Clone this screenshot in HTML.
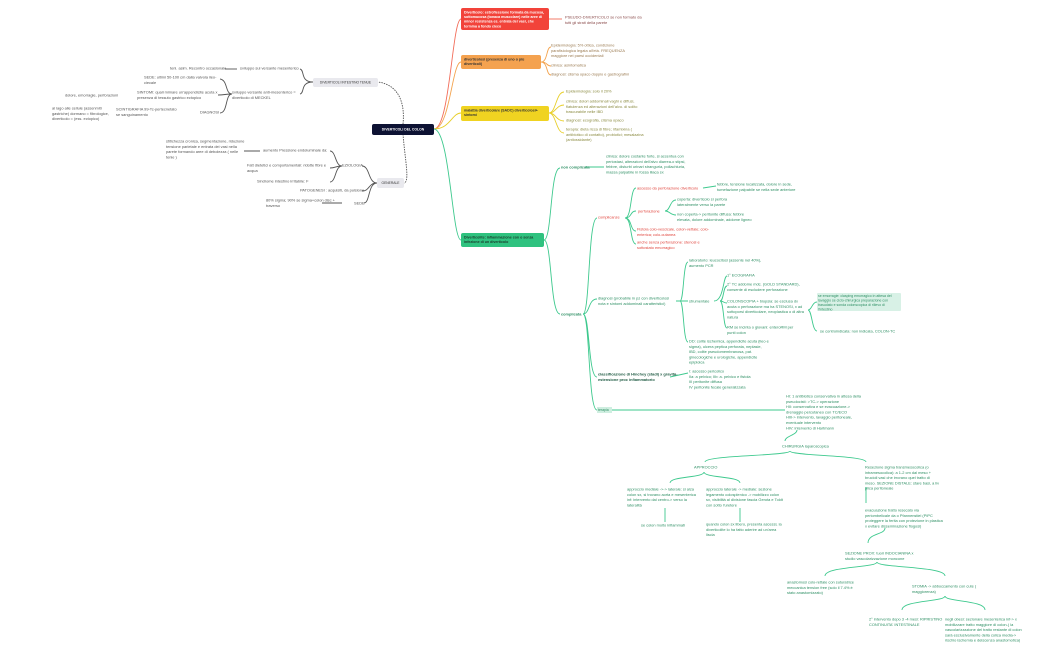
<!DOCTYPE html>
<html><head><meta charset="utf-8"><style>
html,body{margin:0;padding:0;background:#fff;}
body{width:1050px;height:650px;position:relative;overflow:hidden;font-family:"Liberation Sans",sans-serif;}
.t{position:absolute;font-size:7.8px;line-height:10.6px;color:#555;transform:scale(.5);transform-origin:0 0;white-space:nowrap;}
.t.w{white-space:normal;}
.box{position:absolute;border-radius:2px;box-sizing:border-box;overflow:hidden;}
.box .in{position:absolute;left:3px;top:2px;font-size:7.8px;line-height:9.4px;font-weight:bold;transform:scale(.5);transform-origin:0 0;}
.box .c{position:absolute;left:0;top:0;width:200%;height:200%;display:flex;align-items:center;justify-content:center;font-size:7.4px;transform:scale(.5);transform-origin:0 0;white-space:nowrap;}
.g{color:#2e8f64}.r{color:#e0453d}.b{font-weight:bold}
svg{position:absolute;left:0;top:0}
</style></head><body>
<svg width="1050" height="650" fill="none" stroke-width="0.9">
<g stroke="#555">
<path d="M434 129 C450 129 452 20 461 19" stroke="#f26d5a"/>
<path d="M434 129 C450 129 452 62 461 62" stroke="#f3a34e"/>
<path d="M434 129 C450 129 452 113 461 113" stroke="#e8cf2a"/>
<path d="M434 129 C450 130 452 240 461 240" stroke="#3ec98e"/>
<path d="M403 124 C405 105 400 85 378 82" stroke-dasharray="1.5,1"/>
<path d="M403 134 C405 160 410 182 404 183" stroke-dasharray="1.5,1"/>
<path d="M313 82 C300 82 305 70 300 69 M313 82 C300 82 305 93 300 94"/>
<path d="M225 69 L237 69"/>
<path d="M232 94 C225 94 228 80 220 79 M232 94 C225 94 225 95 218 95 M232 94 C225 94 228 113 220 113"/>
<path d="M377 183 C368 183 370 166 362 166 M377 183 C368 183 370 191 362 191 M377 183 C368 183 370 203 364 203"/>
<path d="M342 166 C335 166 336 151 330 151 M342 166 C335 166 336 168 330 168 M342 166 C335 166 336 182 330 182"/>
<path d="M244 151 L260 151 M342 203 L322 203"/>
</g>
<g stroke="#f26d5a"><path d="M549 19 L562 19"/></g>
<g stroke="#f3a34e"><path d="M541 62 C548 62 546 47 551 47 M541 62 C548 62 546 66 551 66 M541 62 C548 62 546 75 551 75"/></g>
<g stroke="#e8cf2a"><path d="M549 113 C556 113 556 92 564 92 M549 113 C556 113 556 105 564 105 M549 113 C556 113 556 121 564 121 M549 113 C556 113 556 133 564 133"/></g>
<g stroke="#3ec98e">
<path d="M544 240 C552 240 550 168 560 168 M544 240 C552 240 550 314 560 314"/>
<path d="M585 167 L604 167"/>
<path d="M583 314 C590 314 588 218 597 218 M583 314 C590 314 588 299 597 299 M583 314 C590 314 588 377 597 377 M583 314 C590 314 588 410 597 410"/>
<path d="M625 218 C632 218 630 188 636 188 M625 218 C632 218 630 211 636 211 M625 218 C632 218 630 231 636 231 M625 218 C632 218 630 244 636 244"/>
<path d="M703 188 L716 186 M665 211 C670 211 670 200 676 200 M665 211 C670 211 670 215 676 215"/>
<path d="M676 301 L688 301 M680 301 C684 301 683 262 688 262 M680 301 C684 301 683 342 688 342"/>
<path d="M714 301 C724 301 723 276 727 276 M720 301 C724 301 723 286 727 286 M720 301 C724 301 723 303 727 303 M720 301 C724 301 723 328 727 328"/>
<path d="M808 310 C812 310 812 302 817 302 M808 310 C812 310 812 331 817 331"/>
<path d="M670 377 L688 373"/>
<path d="M612 410 L785 410"/>
<path d="M797 430 C797 435 785 436 785 441"/>
<path d="M790 451 C790 456 705 455 705 462 M790 451 C790 456 866 455 866 462"/>
<path d="M704 472 C704 478 670 476 670 483 M704 472 C704 478 740 476 740 483"/>
<path d="M665 508 L665 522 M740 508 L740 522 M866 487 L866 503"/>
<path d="M885 528 C885 535 868 533 868 543"/>
<path d="M877 562 C877 568 825 566 825 576 M877 562 C877 568 945 566 945 576"/>
<path d="M945 596 C945 602 902 600 902 610 M945 596 C945 602 985 600 985 610"/>
</g>
</svg>

<div class="box" style="left:372px;top:124px;width:62px;height:11px;background:#0d1233;"><div class="c" style="color:#fff;font-weight:bold;font-size:6.8px">DIVERTICOLI DEL COLON</div></div>
<div class="box" style="left:313px;top:78px;width:65px;height:9px;background:#e9e9ee;"><div class="c" style="color:#333;font-size:6.6px">DIVERTICOLI INTESTINO TENUE</div></div>
<div class="box" style="left:377px;top:178px;width:27px;height:10px;background:#e9e9ee;"><div class="c" style="color:#333;font-size:6.6px">GENERALE</div></div>
<div class="box" style="left:461px;top:8px;width:88px;height:22px;background:#f2433a;"><div class="in" style="color:#fff;width:166px;font-size:7.2px;line-height:9.2px">Diverticolo: estroflessione formata da mucosa, sottomucosa (tonaca muscolare) nelle aree di minor resistenza es. entrata dei vasi, che termina a fondo cieco</div></div>
<div class="box" style="left:461px;top:55px;width:80px;height:14px;background:#f4a24f;"><div class="in" style="color:#333;width:150px;font-size:7.2px">diverticolosi (presenza di uno o più diverticoli)</div></div>
<div class="box" style="left:461px;top:106px;width:88px;height:15px;background:#f0d321;"><div class="in" style="color:#333;width:166px;font-size:7.2px">malattia diverticolare (SADC) diverticolosi+ sintomi</div></div>
<div class="box" style="left:461px;top:233px;width:83px;height:14px;background:#2fc27f;"><div class="in" style="color:#1a3a2a;width:156px;font-size:7.2px">Diverticolite: infiammazione con o senza infezione di un diverticolo</div></div>

<div class="t" style="left:170px;top:66px">tenl. asim. Recontro occasionale</div>
<div class="t" style="left:240px;top:66px">sviluppo sul versante mesenterico</div>
<div class="t w" style="left:144px;top:75px;width:152px">SEDE: ultimi 50-100 cm dalla valvola ileo-ciecale</div>
<div class="t w" style="left:137px;top:90px;width:164px">SINTOMI: quali mimare un'appendicite acuta x presenza di tessuto gastrico ectopico</div>
<div class="t" style="left:65px;top:93px">dolore, emorragie, perforazioni</div>
<div class="t w" style="left:232px;top:90px;width:140px">sviluppo versante anti-mesenterico = diverticolo di MECKEL</div>
<div class="t" style="left:200px;top:110px">DIAGNOSI</div>
<div class="t w" style="left:116px;top:107px;width:130px">SCINTIGRAFIA 99-Tc-pertecnetato se sanguinamento</div>
<div class="t w" style="left:52px;top:106px;width:116px">al lago alle cellule (assenmiti gastriche) dormano = fibrologice, diverticolo = (ess. ectopico)</div>

<div class="t w" style="left:166px;top:139px;width:160px">stitichezza cronica, segmentazione, riduzione tensione parietale e entrata dei vasi nella parete formando aree di debolezza ( nelle tenie )</div>
<div class="t" style="left:263px;top:148px">aumento Pressione endoluminale da:</div>
<div class="t w" style="left:247px;top:163px;width:160px">Fatt dietetici e comportamentali: ridotte fibre e acqua</div>
<div class="t" style="left:257px;top:179px">Sindrome intestino irritabile: F</div>
<div class="t" style="left:342px;top:163px">EZIOLOGIA</div>
<div class="t" style="left:300px;top:188px">PATOGENESI : acquisiti, da pulsione</div>
<div class="t w" style="left:266px;top:198px;width:150px">80% sigma; 90% se sigma+colon disc + traverso</div>
<div class="t" style="left:354px;top:201px">SEDE</div>

<div class="t w" style="left:565px;top:15px;width:160px;color:#8a4a4a">PSEUDO-DIVERTICOLO se non formato da tutti gli strati della parete</div>
<div class="t w" style="left:551px;top:43px;width:170px;color:#9a7a50">Epidemiologia: 5% ottica, condizione paraﬁsiologica legata all'età. FREQUENZA maggiore nei paesi occidentali</div>
<div class="t" style="left:551px;top:63px;color:#9a7a50">clinica: asintomatica</div>
<div class="t" style="left:551px;top:72px;color:#9a7a50">diagnosi: clisma opaco doppio e gastrografini</div>
<div class="t" style="left:566px;top:89px;color:#8a8a40">Epidemiologia: solo il 20%</div>
<div class="t w" style="left:566px;top:99px;width:164px;color:#8a8a40">clinica: dolori addominali vaghi e diffusi, flatulenza ed alterazioni dell'alvo. di solito trascurabile nelle IBD</div>
<div class="t" style="left:566px;top:118px;color:#8a8a40">diagnosi: ecografia, clisma opaco</div>
<div class="t w" style="left:566px;top:127px;width:160px;color:#8a8a40">terapia: dieta ricca di fibre; rifamixina ( antibiotico di contatto), probiotici; mesalazina (antiossidante)</div>

<div class="t g b" style="left:561px;top:165px">non complicata</div>
<div class="t g w" style="left:606px;top:154px;width:160px">clinica: dolore costante forte, si accentua con periostasi, alterazioni dell'alvo diarrea-o stipsi, febbre, disturbi urinari stranguria, pollachiuria, massa palpabile in fossa iliaca sx</div>
<div class="t g b" style="left:561px;top:312px">complicata</div>
<div class="t r" style="left:598px;top:215px">complicanze</div>
<div class="t r" style="left:637px;top:186px">ascesso da perforazione diverticolo</div>
<div class="t g w" style="left:717px;top:182px;width:160px">febbre, tensione localizzata, dolore in sede, tumefazione palpabile se nella sede anteriore</div>
<div class="t r" style="left:638px;top:209px">perforazione</div>
<div class="t g w" style="left:677px;top:197px;width:140px">coperta: diverticolo si perfora lateralmente verso la parete</div>
<div class="t g w" style="left:677px;top:212px;width:160px">non coperta-> peritonite diffusa: febbre elevata, dolore addominale, addome ligneo</div>
<div class="t r w" style="left:637px;top:227px;width:144px">Fistola colo-vescicale, colon-vettale; colo-enterica; colo-cutanea</div>
<div class="t r w" style="left:637px;top:240px;width:140px">anche senza perforazione: stenosi e sottostato emorragico</div>

<div class="t g w" style="left:689px;top:258px;width:156px">laboratorio: leucocitosi (assente nel 40%), aumento PCR</div>
<div class="t g w" style="left:598px;top:296px;width:156px">diagnosi (probabile in pz con diverticolosi nota e sintomi addominali caratteristici)</div>
<div class="t g" style="left:689px;top:299px">strumentale</div>
<div class="t g" style="left:727px;top:273px">1° ECOGRAFIA</div>
<div class="t g w" style="left:727px;top:282px;width:150px">2° TC addome mdc. (GOLD STANDARD), consente di escludere perforazione</div>
<div class="t g w" style="left:727px;top:299px;width:160px">COLONSCOPIA + biopsia: se esclusa dx acuta o perforazione ma ha STENOSI, x ad sottoporsi diverticolare, neoplastica o di altra natura</div>
<div class="t g w" style="left:727px;top:325px;width:136px">RM se incinta o giovani: enteroRM per punti colon</div>
<div style="position:absolute;left:817px;top:293px;width:84px;height:18px;background:#d8f1e6;border-radius:1px"></div>
<div class="t g w" style="left:818px;top:294px;width:164px;font-size:7px;line-height:9px">se emorragie: clasping emorragico in attesa del lavaggio se ciclo-chirurgica preparazione con trasudato e sonda colonscopica di rilievo di l'intestino</div>
<div class="t g" style="left:820px;top:329px">se controindicata: non indicata, COLON-TC</div>
<div class="t g w" style="left:689px;top:339px;width:160px">DD: colite ischemica, appendicite acuta (ileo e sigma), ulcera peptica perforata, neplasie, IBD, colite pseudomembranosa, pat. ginecologiche e urologiche, appendicite epiploica</div>
<div class="t g b w" style="left:598px;top:372px;width:160px;color:#1e5a42">classificazione di Hinchey (stadi) x gravità-estensione proc infiammatorio</div>
<div class="t g" style="left:689px;top:369px">I: ascesso pericolico<br>IIa: a pelvico; IIb: a. pelvico e fistola<br>III peritonite diffusa<br>IV peritonite fecale generalizzata</div>
<div style="position:absolute;left:597px;top:407px;width:15px;height:6px;background:#cfeee0"></div>
<div class="t g" style="left:598px;top:408px;font-size:7px">terapia</div>
<div class="t g w" style="left:786px;top:394px;width:160px">HI: 1 antibiotico conservativa in attesa della pseudocisti: >TC-> operazione<br>HII: conservativa e se evacuazione-> drenaggio percutaneo con TC/ECO<br>HIII-> intervento, lavaggio peritoneale, eventuale intervento<br>HIV: intervento di Hartmann</div>
<div class="t g" style="left:782px;top:444px">CHIRURGIA laparoscopica</div>
<div class="t g" style="left:694px;top:465px">APPROCCIO</div>
<div class="t g w" style="left:865px;top:465px;width:152px">Resezione sigma transmesocolica (o intramesocolica): a 1-2 cm dal meso + brucioli vasi che irrorano quel tratto di meso. SEZIONE DISTALE: stare basi, a liv plica peritoneale</div>
<div class="t g w" style="left:627px;top:487px;width:144px">approccio mediale ->-> laterale: si alza colon sx, si trovano aorta e mesenterica inf: intervento dal centro-> verso la lateralità</div>
<div class="t g w" style="left:706px;top:487px;width:156px">approccio laterale -> mediale: sezione legamento colosplenico -> mobilizzo colon sx, visibilità al divisione fascia Gerota e Toldt con sotto l'uretere</div>
<div class="t g" style="left:641px;top:523px">se colon molto infiammati</div>
<div class="t g w" style="left:706px;top:522px;width:156px">quando colon sx libero, presenta ascessi, la diverticolite lo ha fatto aderire ad un'area liscia</div>
<div class="t g w" style="left:865px;top:508px;width:156px">evacuazione tratto resecato via periombelicale da o Pfannenstiel (PIPC proteggere la ferita con protezione in plastica x evitare disseminazione flogosi)</div>
<div class="t g w" style="left:845px;top:551px;width:152px">SEZIONE PROX: tuori INDOCIANINA x studio vascolarizzazione moncone</div>
<div class="t g w" style="left:787px;top:580px;width:144px">anastomosi colo-rettale con suturatrice meccanica tension free (solo il 7.4% è stato anastomizzato)</div>
<div class="t g w" style="left:912px;top:584px;width:144px">STOMIA -> abboccamento con cute ( maggiorenza)</div>
<div class="t g w" style="left:869px;top:617px;width:152px">2° intervento dopo 3 -4 mesi: RIPRISTINO CONTINUITA' INTESTINALE</div>
<div class="t g w" style="left:945px;top:617px;width:164px">negli obesi: sezionare mesenterica inf-> x mobilizzare tratto maggiore di colon-( la vascolarizzazione del tratto restante di colon sarà esclusivamente della colica media-> rischio ischemia e deiscenza anastomotica)</div>
</body></html>
